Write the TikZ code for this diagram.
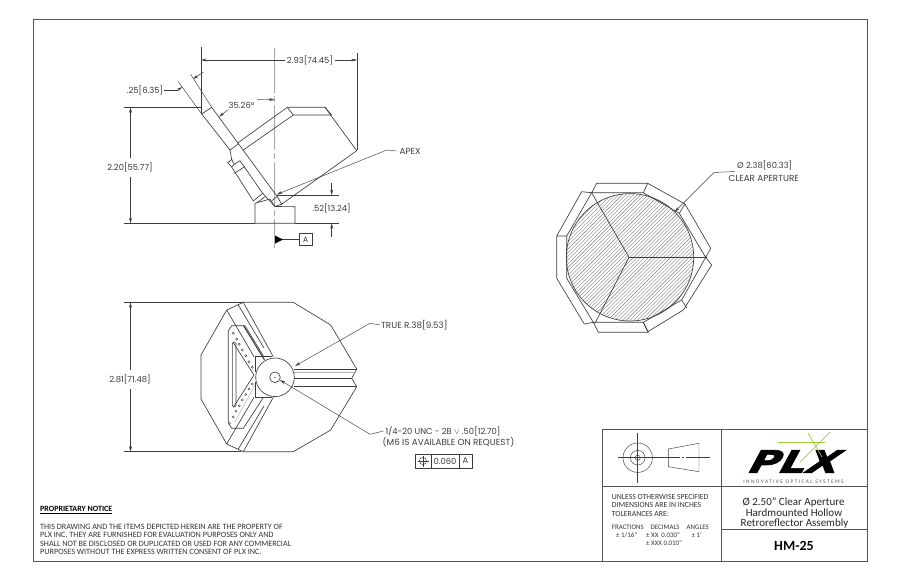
\documentclass[tikz,border=0pt]{standalone}
\usepackage{fontspec}
\usepackage{graphicx}
\setmainfont{Carlito}
\newfontfamily\dimfont{Poppins}
\newfontfamily\plxfont[BoldFeatures={FakeSlant=0.4,FakeBold=2}]{DejaVu Sans}
\usetikzlibrary{arrows.meta}
\definecolor{ink}{HTML}{3C3C3C}
\definecolor{framec}{HTML}{555555}
\definecolor{centerc}{HTML}{A8A8A8}
\definecolor{plxgreen}{HTML}{9CCB3B}
\tikzset{
  part/.style={draw=ink,line width=0.65pt,line join=round},
  dimline/.style={draw=ink,line width=0.45pt},
  dimarrow/.style={dimline,-{Stealth[length=5.5pt,width=2.8pt]}},
  centerline/.style={draw=centerc,line width=0.7pt,dash pattern=on 45pt off 3pt on 6pt off 3pt},
  dimtext/.style={inner sep=0pt,text=ink,font=\dimfont\fontsize{8.4}{9}\selectfont},
  capstext/.style={inner sep=0pt,text=ink,font=\dimfont\fontsize{8.8}{9}\selectfont},
  notetext/.style={inner sep=0pt,anchor=west,text=black!80,font=\fontsize{7.75}{8}\selectfont},
  smallnote/.style={notetext,font=\fontsize{6.9}{7}\selectfont},
  noticetext/.style={notetext,font=\fontsize{8.15}{9}\selectfont},
  titletext/.style={inner sep=0pt,text=black!85,font=\fontsize{11}{12}\selectfont},
  frameline/.style={draw=framec,line width=0.8pt},
  hole/.style={draw=ink,line width=0.4pt,fill=white},
  fcfbox/.style={draw=ink,line width=0.5pt,minimum height=13.5pt,inner sep=0pt},
}
\begin{document}
\begin{tikzpicture}[x=1pt,y=-1pt]
\useasboundingbox (0,0) rectangle (900,582);
\fill[white] (0,0) rectangle (900,582);
% frame
\draw[frameline] (33,19) rectangle (867,561);
\draw[frameline] (602,561) -- (602,429.3) -- (867,429.3);
\draw[frameline] (721.7,429.3) -- (721.7,561);
\draw[frameline] (602,486.7) -- (867,486.7);
\draw[frameline] (721.7,529) -- (867,529);

%% ---------- side view
\draw[centerline] (274.7,48) -- (274.7,248);
\path[part] (230,150) -- (201.7,114) -- (211.7,107.3) -- (277.3,196.7) -- (281.7,204);
\path[part] (230,150) -- (231.7,159.3);
\path[part] (240,160.7) -- (262.7,193.3) -- (271.7,203) -- (275,206.5);
\path[part] (271.7,200.7) -- (277.3,196.7);
\path[part] (275,206.5) -- (281.7,204);
\path[part] (255,203.3) -- (270,199) -- (275,206.5) -- (295,206.7) -- (295,223.3) -- (255,223.3) -- cycle;
% arm
\path[part] (237.3,143.3) -- (287.3,107.3) -- (325,107.3) -- (356.7,150.7) -- (280.5,205);
\path[part] (243.3,150) -- (293.3,115) -- (331.7,115);
\path[part] (287.3,107.3) -- (293.3,115);
\path[part] (325,107.3) -- (331.7,115);
\path[part] (230,150) -- (238.3,144);
% back piece
\path[part] (227.7,162.7) -- (231.7,159.3) -- (234.3,164.3) -- (231.7,167) -- cycle;
\path[part] (234.3,164.3) -- (240,160.7);
\path[part] (231.7,167) -- (253.3,201) -- (262.7,193.3);
\path[part] (234.3,173.3) -- (245,166.5);
\path[part] (256.7,203) -- (265,196.7);
% dimensions side view
\draw[dimline] (201,47) -- (201,114);
\draw[dimline] (357,53) -- (357,150);
\node[dimtext] (d293) at (310,60) {2.93[74.45]};
\coordinate (d293l) at (201,60);
\coordinate (d293r) at (357,60);
\draw[dimarrow] (d293.west) ++(-2,0) -- (d293l);
\draw[dimarrow] (d293.east) ++(2,0) -- (d293r);
\draw[dimline] (178.3,81.7) -- (201.7,114);
\draw[dimline] (190.7,74.3) -- (211.7,107.3);
\node[dimtext] (d25) at (145,90) {.25[6.35]};
\coordinate (d25a) at (182,87);
\draw[dimline] (d25.east) ++(1,0) -- (178,90);
\draw[dimarrow] (178,90) -- (d25a);
\coordinate (d25b) at (193,79);
\draw[dimarrow] (203.5,72) -- (d25b);
\node[dimtext] (d35) at (241.5,105) {35.26°};
\coordinate (a35r) at (274.7,100);
\coordinate (a35l) at (219,116.7);
\draw[dimarrow] (257,99.5) to[bend left=5] (a35r);
\draw[dimarrow] (228.5,109.5) -- (a35l);
\draw[dimline] (124,107.3) -- (201.7,107.3);
\draw[dimline] (124,223.3) -- (255,223.3);
\node[dimtext] (d220) at (130,167.5) {2.20[55.77]};
\coordinate (d220t) at (130.5,107.3);
\coordinate (d220b) at (130.5,223.3);
\draw[dimarrow] (130.5,158) -- (d220t);
\draw[dimarrow] (130.5,177) -- (d220b);
\draw[dimline] (277,195) -- (339,195);
\draw[dimline] (295,223.3) -- (339,223.3);
\node[dimtext] (d52) at (331.5,208) {.52[13.24]};
\coordinate (d52t) at (331.7,195);
\coordinate (d52b) at (331.7,223.3);
\draw[dimarrow] (331.7,183) -- (d52t);
\draw[dimarrow] (331.7,236.5) -- (d52b);
\node[capstext,anchor=west] (apex) at (399.5,151) {APEX};
\coordinate (apextip) at (276.7,194.5);
\draw[dimarrow] (apex.west) ++(-3,0) -- (386.7,150) -- (apextip);
\node[draw=ink,line width=0.5pt,minimum width=13.3pt,minimum height=12.4pt,inner sep=0pt,text=ink,font=\dimfont\fontsize{7.6}{9}\selectfont] (datum) at (305.6,239.5) {A};
\coordinate (datumtip) at (275,239.5);
\draw[dimline] (datum.west) -- (datumtip);
\fill[black] (275,235.5) -- (283,239.5) -- (275,243.5) -- cycle;

%% ---------- bottom view
% outer body
\path[part] (226.7,310) -- (201,355) -- (201,399) -- (226.7,444);
\path[part] (226.7,310) -- (243.3,302.3) -- (293.3,302.3) -- (330.7,325) -- (356.7,369) -- (351.7,378.3) -- (356.7,386.7) -- (330.7,430) -- (293.3,451.7) -- (243.3,451.7) -- (226.7,444);
% rails
\path[part] (226.7,310) -- (254,356.7);
\path[part] (238.3,305) -- (264,348);
\path[part] (243.3,302.3) -- (273.3,356.7);
\path[part] (226.7,444) -- (254,397.3);
\path[part] (238.3,449) -- (264,406);
\path[part] (243.3,451.7) -- (273.3,397.3);
% triangular plate
\path[part] (231.7,325.7) -- (245,325.7) -- (264,357);
\path[part,line width=1pt] (243.5,325.7) -- (264.5,360);
\path[part] (231.7,325.7) -- (228.3,331) -- (228.3,423) -- (231.7,428.3) -- (243.3,428.3) -- (263.3,397.5);
\path[part] (233.5,343) -- (254,375) -- (233.5,407);
\draw[part,rounded corners=1.5pt] (232.4,342) rectangle (236,407);
\draw[draw=ink!45,line width=0.4pt] (235,421.7) -- (255,385);
\foreach \hx/\hy in {233.3/333.3,236.7/339.3,239.3/344.3,242.3/350,245.7/355.7,249/361.7,252.3/367.3,
  252.3/384,249/389,245.7/394.5,242.3/400,239.3/405.7,236/411.3,233.3/417,229.5/423.5}
  \draw[hole] (\hx,\hy) circle (1.1pt);
% block next to the hub
\path[part] (255,356.5) -- (272,356.5);
\path[part] (255,356.5) -- (255,372);
\path[part] (255,397.5) -- (272,397.5);
\path[part] (255,397.5) -- (255,382);
% hub
\draw[part,fill=white] (275,377.3) circle (19.3pt);
\draw[part] (275,377.3) circle (5.3pt);
\draw[draw=ink!50,line width=0.3pt] (274.4,377.3) -- (275.6,377.3);
% groove
\path[part] (294,369) -- (356.7,369);
\path[draw=ink!40,line width=0.4pt] (294.4,372.5) -- (354.5,372.5);
\path[part] (294.3,378.3) -- (351.7,378.3);
\path[part] (294,386.7) -- (356.7,386.7);
% dimensions bottom view
\draw[dimline] (124,302.3) -- (243.3,302.3);
\draw[dimline] (124,451.7) -- (241,451.7);
\node[dimtext] (d281) at (130,379.5) {2.81[71.48]};
\coordinate (d281t) at (130.5,302.3);
\coordinate (d281b) at (130.5,451.7);
\draw[dimarrow] (130.5,370) -- (d281t);
\draw[dimarrow] (130.5,389) -- (d281b);
\node[capstext,anchor=west] (truer) at (381,325) {TRUE R.38[9.53]};
\coordinate (truertip) at (295,366);
\draw[dimarrow] (truer.west) ++(-1,0) -- (370,323.3) -- (truertip);
\node[dimtext,anchor=west] (thread) at (385.5,431) {1/4-20 UNC - 2B $\vee$ .50[12.70]};
\node[capstext,anchor=west] (m6) at (382.5,442.3) {(M6 IS AVAILABLE ON REQUEST)};
\coordinate (threadtip) at (280,380);
\draw[dimarrow] (thread.west) ++(-2,0) -- (370,434.3) -- (threadtip);
\node[fcfbox,minimum width=16pt] (fcf1) at (423,461) {};
\node[fcfbox,dimtext,draw=ink,minimum width=28pt,minimum height=13.5pt] (fcf2) at (445,461) {0.060};
\node[fcfbox,dimtext,draw=ink,minimum width=13pt,minimum height=13.5pt] (fcf3) at (465.5,461) {A};
\draw[dimline] (fcf1.center) circle (3.6pt);
\draw[dimline] ([xshift=-5.5pt]fcf1.center) -- ([xshift=5.5pt]fcf1.center);
\draw[dimline] ([yshift=-5.5pt]fcf1.center) -- ([yshift=5.5pt]fcf1.center);

%% ---------- front view
\begin{scope}
  \clip (630,257.3) circle (63.7pt);
  \foreach \i in {-44,...,44}
    \draw[draw=ink!65,line width=0.4pt] ({630+\i*3.7-90},{257.3+90}) -- ({630+\i*3.7+90},{257.3-90});
\end{scope}
\draw[part] (630,257.3) circle (63.7pt);
\path[part] (629,257.3) -- (706.7,257.3);
\path[part] (629,257.3) -- (591.7,192.7);
\path[part] (629,257.3) -- (595,323.3);
% top band
\path[part] (591.7,192.7) -- (596.7,183.3) -- (647.7,183.3) -- (643.3,192.7) -- cycle;
% upper right band
\path[part] (647.7,183.3) -- (685,204) -- (710.7,248.3) -- (705.7,257.3) -- (679.3,213.3) -- (643.3,192.7);
\path[part] (685,204) -- (679.3,213.3);
% lower right band
\path[part] (705.7,257.3) -- (711.7,265) -- (683.3,310) -- (647.7,331.7) -- (643.3,322.3) -- (681.7,300) -- cycle;
\path[part] (681.7,300) -- (686.7,308);
% bottom band
\path[part] (593.3,322.3) -- (643.3,322.3) -- (648.3,332.3) -- (598.3,332.3) -- cycle;
% lower left band
\path[part] (593.3,322.3) -- (584.3,324) -- (556.7,278.3) -- (556.7,236) -- (566.7,236) -- (566.7,278.3) -- cycle;
% upper left band
\path[part] (566.7,236) -- (591.7,192.7) -- (581.7,191.7) -- (556.7,236);
\node[dimtext,anchor=west] (dia) at (737,165.5) {Ø 2.38[60.33]};
\node[capstext,anchor=west] (clear) at (728.5,178.5) {CLEAR APERTURE};
\coordinate (diatip) at (674.5,212);
\draw[dimarrow] (dia.west) ++(-2,6) -- (714,172.5) -- (diatip);

%% ---------- title block
\draw[dimline] (637.7,457.7) circle (14.7pt);
\draw[dimline] (637.7,457.7) circle (7.3pt);
\draw[dimline] (637.7,457.7) circle (2.6pt);
\draw[dimline] (617.5,457.7) -- (652.5,457.7);
\draw[dimline] (637.7,433) -- (637.7,483);
\draw[dimline] (668.3,449) -- (699,443.3) -- (699,471.7) -- (668.3,466.7) -- cycle;
\draw[dimline] (652.5,457.7) -- (680,457.7);
\draw[dimline] (682,457.7) -- (684,457.7);
\draw[dimline] (686,457.7) -- (710,457.7);
% logo
\node[inner sep=0pt,text=black,font=\plxfont\bfseries\fontsize{31}{31}\selectfont] (plx) at (790,461.5) {\scalebox{1.35}[1]{PLX}};
\draw[plxgreen,line width=0.7pt] (778,442) -- (825,442);
\draw[plxgreen,line width=0.7pt] (830,432) -- (800,462);
\draw[plxgreen,line width=0.7pt] (808,433) -- (822,457);
\node[inner sep=0pt,text=black!65,font=\fontsize{5.4}{6}\selectfont] (innov) at (793.5,481.5) {\addfontfeature{LetterSpace=26}INNOVATIVE OPTICAL SYSTEMS};
% tolerances
\node[notetext] (t1) at (611.7,497) {UNLESS OTHERWISE SPECIFIED};
\node[notetext] (t2) at (611.7,505.5) {DIMENSIONS ARE IN INCHES};
\node[notetext] (t3) at (611.7,514) {TOLERANCES ARE:};
\node[smallnote] (t4) at (611.7,527.5) {FRACTIONS};
\node[smallnote] (t5) at (650.5,527.5) {DECIMALS};
\node[smallnote] (t6) at (686.5,527.5) {ANGLES};
\node[smallnote] (t7) at (616,535.5) {± 1/16"};
\node[smallnote] (t8) at (646,535.5) {± XX\ \ 0.030"};
\node[smallnote] (t9) at (691.5,535.5) {± 1'};
\node[smallnote] (t10) at (646,543) {± XXX 0.010"};
% title
\node[titletext] (title1) at (793.5,502) {Ø 2.50" Clear Aperture};
\node[titletext] (title2) at (794,513) {Hardmounted Hollow};
\node[titletext] (title3) at (794.5,523.5) {Retroreflector Assembly};
\node[inner sep=0pt,text=black,font=\bfseries\fontsize{14}{15}\selectfont] (hm) at (794,546) {HM-25};
% notice
\node[notetext,text=black,font=\bfseries\fontsize{8}{9}\selectfont] (pn) at (40,510) {\underline{PROPRIETARY NOTICE}};
\node[noticetext] (n1) at (40,527) {THIS DRAWING AND THE ITEMS DEPICTED HEREIN ARE THE PROPERTY OF};
\node[noticetext] (n2) at (40,535) {PLX INC. THEY ARE FURNISHED FOR EVALUATION PURPOSES ONLY AND};
\node[noticetext] (n3) at (40,543.5) {SHALL NOT BE DISCLOSED OR DUPLICATED OR USED FOR ANY COMMERCIAL};
\node[noticetext] (n4) at (40,551.5) {PURPOSES WITHOUT THE EXPRESS WRITTEN CONSENT OF PLX INC.};
\end{tikzpicture}
\end{document}
